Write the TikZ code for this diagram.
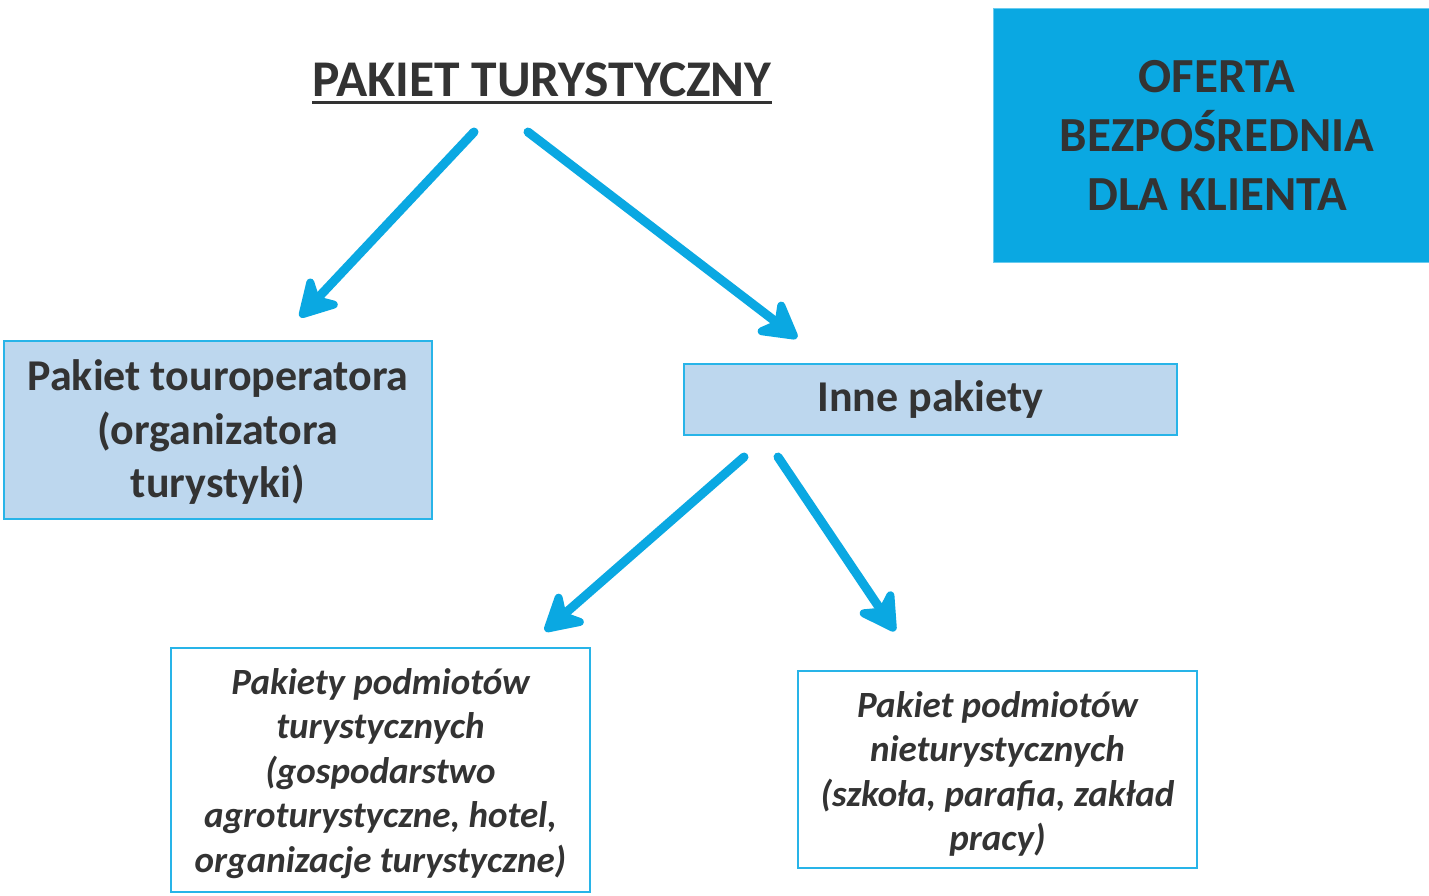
\documentclass[tikz,border=0pt]{standalone}
\usepackage{fontspec}
\setmainfont{Carlito}
\usetikzlibrary{arrows.meta}
\definecolor{cyanA}{RGB}{10,168,226}
\definecolor{cyanB}{RGB}{40,180,232}
\definecolor{lightB}{RGB}{189,215,238}
\definecolor{txt}{RGB}{51,51,51}
\tikzset{
  lbox/.style={draw=cyanB, line width=2pt, fill=lightB, inner sep=0pt, text=txt},
  wbox/.style={draw=cyanB, line width=2.5pt, fill=white, inner sep=0pt, text=txt},
  conn/.style={cyanA, line width=9pt, line cap=round, line join=round,
    -{Stealth[length=46pt,width=52pt,inset=14pt,round]}},
}
\begin{document}
\begin{tikzpicture}[x=1pt,y=-1pt]
\useasboundingbox (0,0) rectangle (1429,895);
\fill[white] (0,0) rectangle (1429,895);
% boxes
\node[lbox, minimum width=428pt, minimum height=178pt] (tour) at (218,430) {};
\node[text=txt, align=center, inner sep=0pt,
  font={\bfseries\fontsize{44}{53.5}\selectfont}] (tourtext) at (218,432.5)
  {Pakiet touroperatora\\(organizatora\\turystyki)};
\node[lbox, minimum width=493pt, minimum height=71pt,
  font={\bfseries\fontsize{44}{48}\selectfont}] (inne) at (930.5,399.5)
  {Inne pakiety};
\node[draw=cyanB!70, line width=1pt, fill=cyanA, minimum width=436pt, minimum height=254pt, inner sep=0pt] (oferta) at (1211,135) {};
\node[text=txt, align=center, inner sep=0pt,
  font={\bfseries\fontsize{49}{59}\selectfont}] (ofertatext) at (1217,135)
  {OFERTA\\BEZPOŚREDNIA\\DLA KLIENTA};
\node[wbox, minimum width=419pt, minimum height=244pt] (podm) at (380.5,770) {};
\node[text=txt, align=center, inner sep=0pt,
  font={\bfseries\itshape\fontsize{37}{44.5}\selectfont}] (podmtext) at (380.5,773.5)
  {Pakiety podmiotów\\turystycznych\\(gospodarstwo\\agroturystyczne, hotel,\\organizacje turystyczne)};
\node[wbox, minimum width=399pt, minimum height=197pt] (niet) at (997.5,769.5) {};
\node[text=txt, align=center, inner sep=0pt,
  font={\bfseries\itshape\fontsize{37}{44.5}\selectfont}] (niettext) at (997.5,774)
  {Pakiet podmiotów\\nieturystycznych\\(szkoła, parafia, zakład\\pracy)};
% title
\node[text=txt, inner sep=0pt, font={\bfseries\fontsize{51.5}{56}\selectfont}] (title) at (542,80)
  {PAKIET TURYSTYCZNY};
\draw[txt, line width=3pt] ([yshift=-5.5pt]title.base west) -- ([yshift=-5.5pt]title.base east);
% connector endpoints
\coordinate (a1s) at (474,132);
\coordinate (a1e) at (300,317);
\coordinate (a2s) at (528,132);
\coordinate (a2e) at (797,338);
\coordinate (a3s) at (744,457);
\coordinate (a3e) at (545,631);
\coordinate (a4s) at (778,457);
\coordinate (a4e) at (895,631);
\draw[conn] (a1s) -- (a1e);
\draw[conn] (a2s) -- (a2e);
\draw[conn] (a3s) -- (a3e);
\draw[conn] (a4s) -- (a4e);
\end{tikzpicture}
\end{document}
